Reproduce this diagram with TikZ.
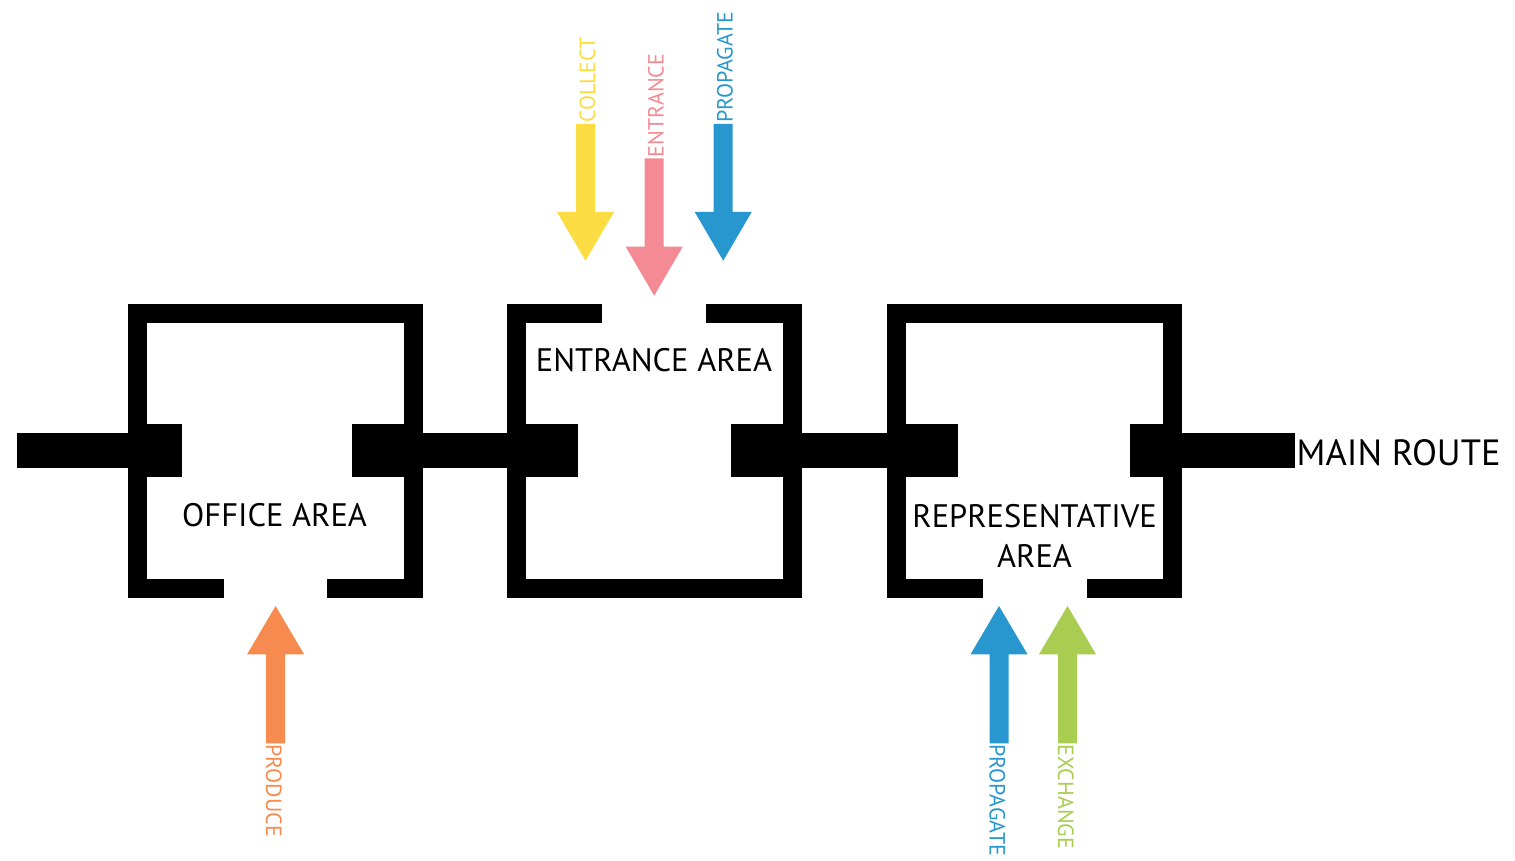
\documentclass[tikz,border=0pt]{standalone}
\usepackage{fontspec}
\setmainfont{PT Sans}
\definecolor{cyellow}{HTML}{FBDC42}
\definecolor{cpink}{HTML}{F48A93}
\definecolor{cblue}{HTML}{2897CF}
\definecolor{corange}{HTML}{F68A4F}
\definecolor{cgreen}{HTML}{A9CD50}
% block arrow: colour, centre x, shaft end y, head base y, tip y
\newcommand\blockarr[5]{\fill[#1] ({#2-9.5},#3) -- ({#2+9.5},#3) -- ({#2+9.5},#4) -- ({#2+28.5},#4) -- (#2,#5) -- ({#2-28.5},#4) -- ({#2-9.5},#4) -- cycle;}
\begin{document}
\begin{tikzpicture}[x=1pt,y=-1pt,
  wall/.style={fill=black},
  area/.style={font=\fontsize{32.5}{38}\selectfont, inner sep=0pt, anchor=base},
  lbl/.style={font=\fontsize{22}{26}\selectfont, inner sep=0pt, anchor=base west}]
\useasboundingbox (0,0) rectangle (1515,861);
% ---------- office area ----------
\fill[wall] (128,303.5) rectangle (422.5,322.5);
\fill[wall] (128,303.5) rectangle (147,597.5);
\fill[wall] (403.5,303.5) rectangle (422.5,597.5);
\fill[wall] (128,578.5) rectangle (223.5,597.5);
\fill[wall] (327,578.5) rectangle (422.5,597.5);
\fill[wall] (128,424) rectangle (181.5,477.3);
\fill[wall] (351.7,424) rectangle (422.5,477.3);
% ---------- entrance area ----------
\fill[wall] (507,303.5) rectangle (602.3,322.5);
\fill[wall] (705.7,303.5) rectangle (802,322.5);
\fill[wall] (507,303.5) rectangle (526,597.5);
\fill[wall] (783,303.5) rectangle (802,597.5);
\fill[wall] (507,578.5) rectangle (802,597.5);
\fill[wall] (507,424) rectangle (578,477.3);
\fill[wall] (731.3,424) rectangle (802,477.3);
% ---------- representative area ----------
\fill[wall] (887,303.5) rectangle (1182,322.5);
\fill[wall] (887,303.5) rectangle (906,597.5);
\fill[wall] (1163,303.5) rectangle (1182,597.5);
\fill[wall] (887,578.5) rectangle (982.7,597.5);
\fill[wall] (1086.6,578.5) rectangle (1182,597.5);
\fill[wall] (887,424) rectangle (957.6,477.3);
\fill[wall] (1129.5,424) rectangle (1182,477.3);
% ---------- corridors ----------
\fill[wall] (17,433.3) rectangle (128,467.7);
\fill[wall] (422.5,433.3) rectangle (507,467.7);
\fill[wall] (802,433.3) rectangle (887,467.7);
\fill[wall] (1182,433.3) rectangle (1294.6,467.7);
% ---------- area labels ----------
\node[area] (office) at (274.6,526.7) {OFFICE AREA};
\node[area] (entrance) at (654,371.7) {ENTRANCE AREA};
\node[area] (rep1) at (1034.6,527) {REPRESENTATIVE};
\node[area] (rep2) at (1034.6,567.7) {AREA};
\node[area, anchor=base west, font=\fontsize{36.5}{42}\selectfont] (main) at (1296.5,465.5) {MAIN ROUTE};
% ---------- arrows ----------
\blockarr{cyellow}{585.5}{124}{212}{260.7}
\blockarr{cpink}{654.2}{158.3}{246.7}{295.7}
\blockarr{cblue}{723.2}{124}{212}{260.7}
\blockarr{corange}{275.6}{743.3}{654.3}{606}
\blockarr{cblue}{999}{743.3}{654.3}{606}
\blockarr{cgreen}{1067.5}{743.3}{654.3}{606}
% ---------- arrow labels ----------
\node[lbl, rotate=90, text=cyellow] (lcollect) at (595,123) {COLLECT};
\node[lbl, rotate=90, text=cpink] (lentr) at (663.7,157.3) {ENTRANCE};
\node[lbl, rotate=90, text=cblue] (lprop1) at (732.7,123) {PROPAGATE};
\node[lbl, rotate=-90, text=corange] (lprod) at (266,744.3) {PRODUCE};
\node[lbl, rotate=-90, text=cblue] (lprop2) at (989.5,744.3) {PROPAGATE};
\node[lbl, rotate=-90, text=cgreen] (lexch) at (1058,744.3) {EXCHANGE};
\end{tikzpicture}
\end{document}
